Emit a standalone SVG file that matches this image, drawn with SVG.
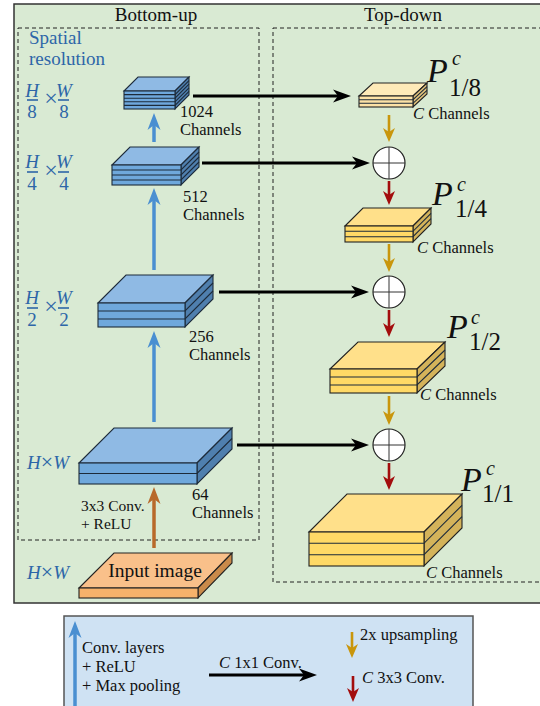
<svg xmlns="http://www.w3.org/2000/svg" width="540" height="706" viewBox="0 0 540 706">
<style>
.t{font-family:"Liberation Serif","Times New Roman",serif;fill:#111}
.s{font-size:16.5px}
.h{font-size:19px}
.x{font-size:24px}
.bl{fill:#2d66a8}
.it{font-style:italic}
.dash{fill:none;stroke:#222;stroke-width:1;stroke-dasharray:4 3}
.bf{fill:#6fa8dc;stroke:#1d2b3a;stroke-width:1.1}
.bt{fill:#8fbae4;stroke:#1d2b3a;stroke-width:1.1}
.bs{fill:#4f7fae;stroke:#1d2b3a;stroke-width:1.1}
.yf{fill:#ffd966;stroke:#222;stroke-width:1.1}
.yt{fill:#ffe08a;stroke:#222;stroke-width:1.1}
.ys{fill:#d4b35a;stroke:#222;stroke-width:1.1}
.pf{fill:#fde2a6;stroke:#222;stroke-width:1.1}
.pt{fill:#feeab8;stroke:#222;stroke-width:1.1}
.ps{fill:#e2c27a;stroke:#222;stroke-width:1.1}
.sl{stroke:#1d2b3a;stroke-width:1.1;fill:none}
.bar{stroke:#2d66a8;stroke-width:1.6}
.ab{stroke:#4a8fd1;stroke-width:3.5;fill:none}
.ak{stroke:#000;stroke-width:2.8;fill:none}
.ay{stroke:#c9960c;stroke-width:2.6;fill:none}
.ar{stroke:#a30d0d;stroke-width:2.6;fill:none}
.ao{stroke:#b8692a;stroke-width:3.5;fill:none}
.P{font-family:"Liberation Serif","Times New Roman",serif;fill:#111}
.pb{font-size:34px;font-style:italic}
.pc{font-size:20px;font-style:italic}
.pn{font-size:25px}
</style>
<defs>
<marker id="mb" markerUnits="userSpaceOnUse" orient="auto" refX="6" refY="0" overflow="visible" markerWidth="20" markerHeight="20"><path d="M17,0 L0,-6.5 L5,0 L0,6.5 Z" fill="#4a8fd1"/></marker>
<marker id="mk" markerUnits="userSpaceOnUse" orient="auto" refX="6" refY="0" overflow="visible" markerWidth="20" markerHeight="20"><path d="M18,0 L0,-6.5 L5,0 L0,6.5 Z" fill="#000"/></marker>
<marker id="my" markerUnits="userSpaceOnUse" orient="auto" refX="6" refY="0" overflow="visible" markerWidth="20" markerHeight="20"><path d="M14,0 L0,-6 L4,0 L0,6 Z" fill="#c9960c"/></marker>
<marker id="mr" markerUnits="userSpaceOnUse" orient="auto" refX="6" refY="0" overflow="visible" markerWidth="20" markerHeight="20"><path d="M14,0 L0,-6 L4,0 L0,6 Z" fill="#a30d0d"/></marker>
<marker id="mo" markerUnits="userSpaceOnUse" orient="auto" refX="6" refY="0" overflow="visible" markerWidth="20" markerHeight="20"><path d="M17,0 L0,-6.5 L5,0 L0,6.5 Z" fill="#b8692a"/></marker>
</defs>
<rect width="540" height="706" fill="#fff"/>
<!-- main panel -->
<rect x="14" y="4" width="540" height="599" fill="#d9ead3" stroke="#333" stroke-width="1.5"/>
<rect class="dash" x="18" y="28" width="241" height="512"/>
<rect class="dash" x="273" y="28" width="290" height="554"/>
<text class="t h" x="156" y="21" text-anchor="middle">Bottom-up</text>
<text class="t h" x="403" y="21" text-anchor="middle">Top-down</text>
<text class="t h bl" x="29" y="44">Spatial</text>
<text class="t h bl" x="29" y="65">resolution</text>

<!-- spatial resolution labels -->
<g id="res8">
<text class="t h bl it" x="32" y="97" text-anchor="middle">H</text><line class="bar" x1="27" y1="100" x2="38" y2="100"/><text class="t h bl" x="32" y="118" text-anchor="middle">8</text>
<text class="t x bl" x="51" y="106" text-anchor="middle">×</text>
<text class="t h bl it" x="64" y="97" text-anchor="middle">W</text><line class="bar" x1="58" y1="100" x2="69" y2="100"/><text class="t h bl" x="64" y="118" text-anchor="middle">8</text>
</g>
<g id="res4">
<text class="t h bl it" x="32" y="168" text-anchor="middle">H</text><line class="bar" x1="27" y1="172" x2="38" y2="172"/><text class="t h bl" x="32" y="190" text-anchor="middle">4</text>
<text class="t x bl" x="51" y="178" text-anchor="middle">×</text>
<text class="t h bl it" x="64" y="168" text-anchor="middle">W</text><line class="bar" x1="58" y1="172" x2="69" y2="172"/><text class="t h bl" x="64" y="190" text-anchor="middle">4</text>
</g>
<g id="res2">
<text class="t h bl it" x="32" y="304" text-anchor="middle">H</text><line class="bar" x1="27" y1="308" x2="38" y2="308"/><text class="t h bl" x="32" y="326" text-anchor="middle">2</text>
<text class="t x bl" x="51" y="314" text-anchor="middle">×</text>
<text class="t h bl it" x="64" y="304" text-anchor="middle">W</text><line class="bar" x1="58" y1="308" x2="69" y2="308"/><text class="t h bl" x="64" y="326" text-anchor="middle">2</text>
</g>
<text id="res1" class="t h bl" x="27" y="469"><tspan class="it">H</tspan><tspan font-size="22">×</tspan><tspan class="it">W</tspan></text>
<text id="res0" class="t h bl" x="27" y="579"><tspan class="it">H</tspan><tspan font-size="22">×</tspan><tspan class="it">W</tspan></text>

<!-- connectors -->
<g id="connectors">
<line class="ab" x1="154" y1="142" x2="154" y2="124" marker-end="url(#mb)"/>
<line class="ab" x1="154" y1="270" x2="154" y2="199" marker-end="url(#mb)"/>
<line class="ab" x1="154" y1="422" x2="154" y2="342" marker-end="url(#mb)"/>
<line class="ao" x1="154" y1="548" x2="154" y2="498" marker-end="url(#mo)"/>
<line class="ak" x1="193" y1="96" x2="339" y2="96" marker-end="url(#mk)"/>
<line class="ak" x1="202" y1="163" x2="358" y2="163" marker-end="url(#mk)"/>
<line class="ak" x1="219" y1="292" x2="357" y2="292" marker-end="url(#mk)"/>
<line class="ak" x1="237" y1="445" x2="357" y2="445" marker-end="url(#mk)"/>
<line class="ay" x1="389" y1="115" x2="389" y2="134" marker-end="url(#my)"/>
<line class="ar" x1="389" y1="181" x2="389" y2="197" marker-end="url(#mr)"/>
<line class="ay" x1="389" y1="244" x2="389" y2="264" marker-end="url(#my)"/>
<line class="ar" x1="389" y1="310" x2="389" y2="329" marker-end="url(#mr)"/>
<line class="ay" x1="389" y1="396" x2="389" y2="417" marker-end="url(#my)"/>
<line class="ar" x1="389" y1="463" x2="389" y2="482" marker-end="url(#mr)"/>
</g>

<!-- blue blocks -->
<g id="b1024">
<path class="bt" d="M124,91 L138,77 L189,77 L175,91 Z"/>
<path class="bs" d="M175,91 L189,77 L189,95 L175,109 Z"/>
<rect class="bf" x="124" y="91" width="51" height="18"/>
<path class="sl" d="M124,94.6H175L189,80.6M124,98.2H175L189,84.2M124,101.8H175L189,87.8M124,105.4H175L189,91.4"/>
<text class="t s" x="180" y="117">1024</text><text class="t s" x="180" y="135">Channels</text>
</g>
<g id="b512">
<path class="bt" d="M112,165 L130,147 L199,147 L181,165 Z"/>
<path class="bs" d="M181,165 L199,147 L199,167 L181,185 Z"/>
<rect class="bf" x="112" y="165" width="69" height="20"/>
<path class="sl" d="M112,170H181L199,152M112,175H181L199,157M112,180H181L199,162"/>
<text class="t s" x="183" y="202">512</text><text class="t s" x="183" y="220">Channels</text>
</g>
<g id="b256">
<path class="bt" d="M98,303 L126,275 L213,275 L185,303 Z"/>
<path class="bs" d="M185,303 L213,275 L213,299 L185,327 Z"/>
<rect class="bf" x="98" y="303" width="87" height="24"/>
<path class="sl" d="M98,311H185L213,283M98,319H185L213,291"/>
<text class="t s" x="189" y="342">256</text><text class="t s" x="189" y="360">Channels</text>
</g>
<g id="b64">
<path class="bt" d="M79,463 L114,428 L232,428 L197,463 Z"/>
<path class="bs" d="M197,463 L232,428 L232,449 L197,484 Z"/>
<rect class="bf" x="79" y="463" width="118" height="21"/>
<path class="sl" d="M79,473.5H197L232,438.5"/>
<text class="t s" x="192" y="500">64</text><text class="t s" x="192" y="518">Channels</text>
<text class="t" font-size="15.5" x="81" y="511">3x3 Conv.</text><text class="t" font-size="15.5" x="81" y="529">+ ReLU</text>
</g>
<g id="input">
<path d="M79,588 L114,553 L232,553 L198,588 Z" fill="#f9c08a" stroke="#222" stroke-width="1.1"/>
<path d="M198,588 L232,553 L232,563 L198,598 Z" fill="#c98a4a" stroke="#222" stroke-width="1.1"/>
<rect x="79" y="588" width="119" height="10" fill="#f6b26b" stroke="#222" stroke-width="1.1"/>
<text class="t" x="155" y="577" font-size="19.5" text-anchor="middle">Input image</text>
</g>

<!-- yellow blocks -->
<g id="p8">
<path class="pt" d="M359,96 L373,83 L427,83 L413,96 Z"/>
<path class="ps" d="M413,96 L427,83 L427,94 L413,107 Z"/>
<rect class="pf" x="359" y="96" width="54" height="11"/>
<path class="sl" d="M359,99.7H413L427,86.7M359,103.3H413L427,90.3" stroke="#222"/>
<text class="t s" x="413" y="119"><tspan class="it">C</tspan> Channels</text>
<text class="P pb" x="427" y="82">P</text>
<text class="P pc" x="452" y="65">c</text>
<text class="P pn" x="449" y="96">1/8</text>
</g>
<g id="p4">
<path class="yt" d="M345,226 L363,208 L431,208 L413,226 Z"/>
<path class="ys" d="M413,226 L431,208 L431,224 L413,242 Z"/>
<rect class="yf" x="345" y="226" width="68" height="16"/>
<path class="sl" d="M345,231.3H413L431,213.3M345,236.7H413L431,218.7" stroke="#222"/>
<text class="t s" x="417" y="253"><tspan class="it">C</tspan> Channels</text>
<text class="P pb" x="432" y="205">P</text>
<text class="P pc" x="457" y="191">c</text>
<text class="P pn" x="455" y="217">1/4</text>
</g>
<g id="p2">
<path class="yt" d="M330,369 L358,342 L445,342 L417,369 Z"/>
<path class="ys" d="M417,369 L445,342 L445,366 L417,393 Z"/>
<rect class="yf" x="330" y="369" width="87" height="24"/>
<path class="sl" d="M330,377H417L445,350M330,385H417L445,358" stroke="#222"/>
<text class="t s" x="420" y="400"><tspan class="it">C</tspan> Channels</text>
<text class="P pb" x="447" y="338">P</text>
<text class="P pc" x="471" y="324">c</text>
<text class="P pn" x="469" y="350">1/2</text>
</g>
<g id="p1">
<path class="yt" d="M309,532 L347,494 L462,494 L424,532 Z"/>
<path class="ys" d="M424,532 L462,494 L462,528 L424,566 Z"/>
<rect class="yf" x="309" y="532" width="115" height="34"/>
<path class="sl" d="M309,543.3H424L462,505.3M309,554.7H424L462,516.7" stroke="#222"/>
<text class="t s" x="426" y="578"><tspan class="it">C</tspan> Channels</text>
<text class="P pb" x="461" y="491">P</text>
<text class="P pc" x="486" y="475">c</text>
<text class="P pn" x="482" y="502">1/1</text>
</g>

<!-- sum nodes -->
<g id="sum1"><circle cx="389" cy="163" r="16" fill="#fff" stroke="#222" stroke-width="1.2"/><path d="M373,163H405M389,147V179" stroke="#333" stroke-width="1"/></g>
<g id="sum2"><circle cx="389" cy="292" r="16" fill="#fff" stroke="#222" stroke-width="1.2"/><path d="M373,292H405M389,276V308" stroke="#333" stroke-width="1"/></g>
<g id="sum3"><circle cx="389" cy="445" r="16" fill="#fff" stroke="#222" stroke-width="1.2"/><path d="M373,445H405M389,429V461" stroke="#333" stroke-width="1"/></g>

<!-- legend -->
<g id="legend">
<rect x="64" y="616" width="409" height="100" fill="#cfe2f3" stroke="#555" stroke-width="1.5"/>
<line class="ab" x1="75" y1="706" x2="75" y2="632" marker-end="url(#mb)"/>
<text class="t s" x="82" y="653">Conv. layers</text>
<text class="t s" x="82" y="672">+ ReLU</text>
<text class="t s" x="82" y="691">+ Max pooling</text>
<line class="ak" x1="209" y1="675" x2="305" y2="675" marker-end="url(#mk)"/>
<text class="t s" x="219" y="668"><tspan class="it">C</tspan> 1x1 Conv.</text>
<line class="ay" x1="352" y1="632" x2="352" y2="650" marker-end="url(#my)"/>
<text class="t s" x="360" y="640">2x upsampling</text>
<line class="ar" x1="353" y1="676" x2="353" y2="694" marker-end="url(#mr)"/>
<text class="t s" x="362" y="683"><tspan class="it">C</tspan> 3x3 Conv.</text>
</g>
</svg>
